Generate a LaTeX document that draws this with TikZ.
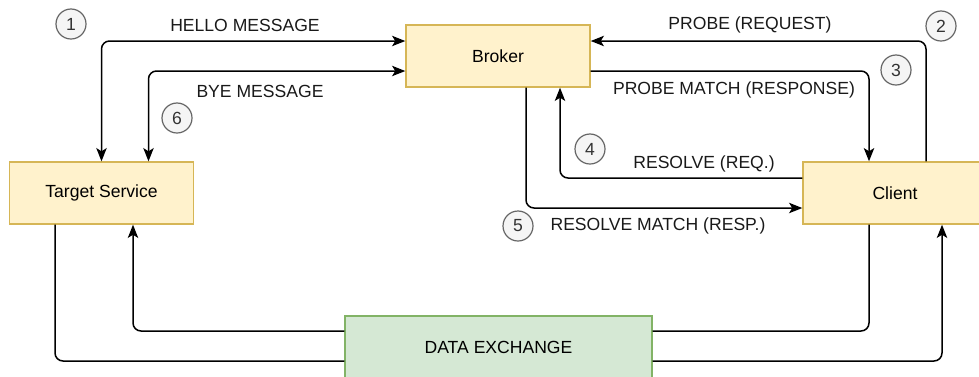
\documentclass[tikz,border=0pt]{standalone}
\usepackage{fontspec}
\setmainfont{Liberation Sans}
\usetikzlibrary{shapes.geometric, arrows.meta, positioning, calc}
\definecolor{entityFill}{HTML}{FFF2CC}
\definecolor{entityLine}{HTML}{D6B656}
\definecolor{exchangeFill}{HTML}{D5E8D4}
\definecolor{exchangeLine}{HTML}{82B366}
\definecolor{badgeFill}{HTML}{F5F5F5}
\definecolor{badgeLine}{HTML}{666666}
\definecolor{badgeText}{HTML}{333333}
\tikzstyle{entity} = [rectangle, minimum width=4.6cm, minimum height=1.55cm, text centered, draw=entityLine, fill=entityFill, line width=0.035cm]
\tikzstyle{exchange} = [rectangle, minimum width=7.675cm, minimum height=1.55cm, text centered, draw=exchangeLine, fill=exchangeFill, line width=0.035cm]
\tikzstyle{badge} = [circle, minimum size=0.75cm, inner sep=0pt, draw=badgeLine, fill=badgeFill, text=badgeText, line width=0.03cm]
\tikzstyle{msg} = [inner sep=0pt, text=black!90]
\tikzstyle{conn} = [line width=0.0375cm, rounded corners=0.2cm, >={Stealth[length=0.33cm, width=0.26cm, inset=0.08cm]}]

\begin{document}
\begin{tikzpicture}[x=0.025cm, y=-0.025cm, font=\fontsize{12.5}{15}\selectfont]
	\useasboundingbox (0,0) rectangle (979,376);
	\node (broker) [entity] at (498,56) {Broker};
	\node (target) [entity] at (101.5,193) {Target Service};
	\node (client) [entity] at (895,193) {Client};
	\node (data) [exchange] at (498.5,347) {DATA EXCHANGE};
	
	\draw[conn,<->] (target.north) |- ($ (broker.west) + (0,-15) $);
	\draw[conn,<->] ($ (target.north) + (47,0) $) |- ($ (broker.west) + (0,15) $);
	\draw[conn,->] ($ (client.north) + (31,0) $) |- ($ (broker.east) + (0,-15) $);
	\draw[conn,->] ($ (broker.east) + (0,15) $) -| ($ (client.north) + (-26,0) $);
	\draw[conn,->] ($ (client.west) + (0,-15) $) -| ($ (broker.south) + (62,0) $);
	\draw[conn,->] ($ (broker.south) + (28,0) $) |- ($ (client.west) + (0,15) $);
	\draw[conn,->] ($ (data.west) + (0,-16) $) -| ($ (target.south) + (31.5,0) $);
	\draw[conn] ($ (target.south) + (-46.5,0) $) |- ($ (data.west) + (0,14) $);
	\draw[conn] ($ (client.south) + (-26,0) $) |- ($ (data.east) + (0,-16) $);
	\draw[conn,->] ($ (data.east) + (0,14) $) -| ($ (client.south) + (47,0) $);
	
	\node (hellomsg) [msg] at (245,25) {HELLO MESSAGE};
	\node (byemsg) [msg] at (260,91) {BYE MESSAGE};
	\node (probereq) [msg] at (750,25) {PROBE (REQUEST)};
	\node (proberesp) [msg] at (734,90) {PROBE MATCH (RESPONSE)};
	\node (resolvereq) [msg] at (704,164) {RESOLVE (REQ.)};
	\node (resolveresp) [msg] at (658,226) {RESOLVE MATCH (RESP.)};
	
	\node (one) [badge] at (71,24) {1};
	\node (two) [badge] at (941,26) {2};
	\node (three) [badge] at (896,70) {3};
	\node (four) [badge] at (590,149) {4};
	\node (five) [badge] at (518,226) {5};
	\node (six) [badge] at (177,118) {6};
\end{tikzpicture}
\end{document}
